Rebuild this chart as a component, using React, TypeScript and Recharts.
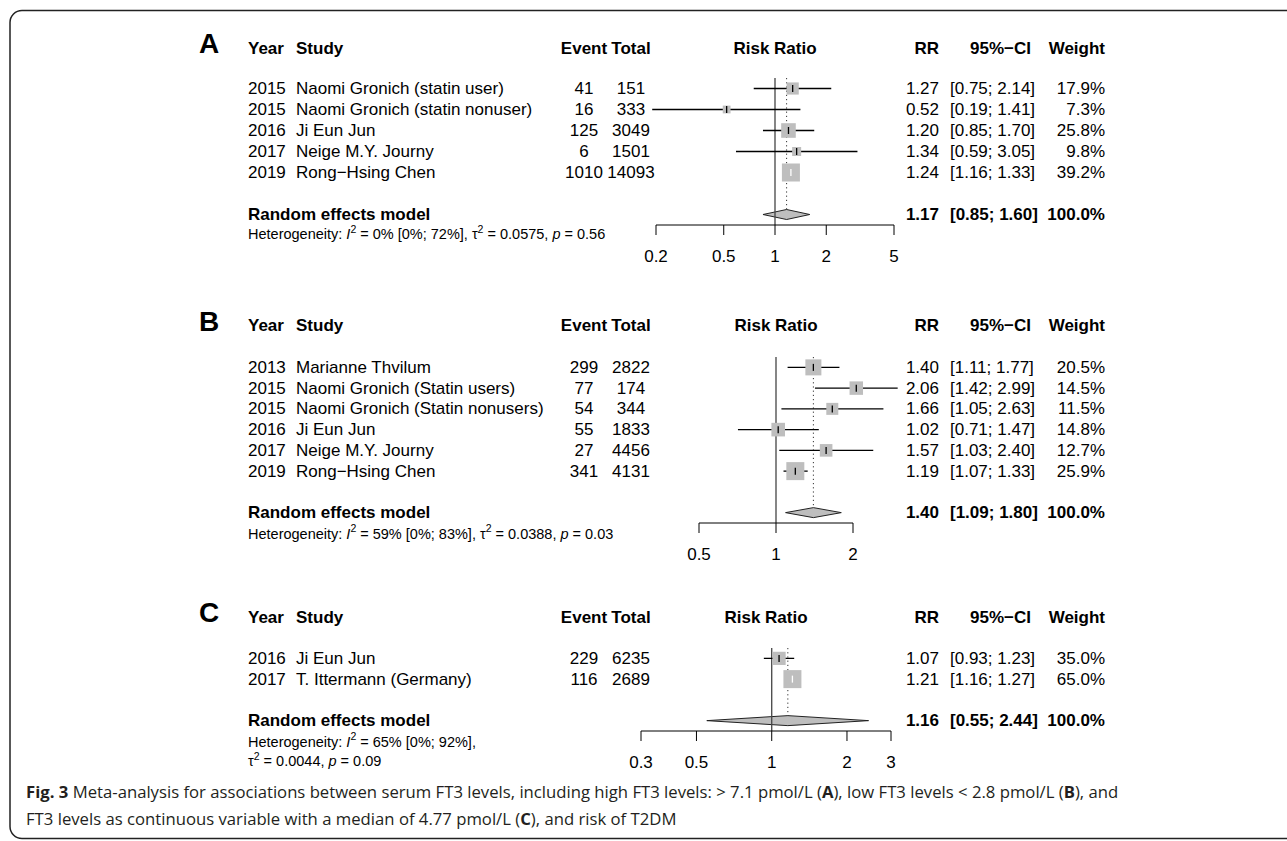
import React from 'react';
import { ComposedChart, XAxis, YAxis, Scatter, ErrorBar, ReferenceLine, Area } from 'recharts';

const FONT = '"Liberation Sans", Arial, Helvetica, sans-serif';
const CAP_FONT = '"Open Sans", "Noto Sans", sans-serif';
const FS = 17;
const HET_FS = 14.5;
const SQ = 18;
const GRAY = '#BEBEBE';

// ---------- Panel A ----------
const yearsA = ['2015', '2015', '2016', '2017', '2019'];
const studiesA = ['Naomi Gronich (statin user)', 'Naomi Gronich (statin nonuser)', 'Ji Eun Jun', 'Neige M.Y. Journy', 'Rong\u2212Hsing Chen'];
const eventsA = [41, 16, 125, 6, 1010];
const totalsA = [151, 333, 3049, 1501, 14093];
const rrA = [1.27, 0.52, 1.2, 1.34, 1.24];
const lowerA = [0.75, 0.19, 0.85, 0.59, 1.16];
const upperA = [2.14, 1.41, 1.7, 3.05, 1.33];
const weightsA = [17.9, 7.3, 25.8, 9.8, 39.2];
const modelA = [1.17, 0.85, 1.6, 100.0];
const hetA = ['0%', '[0%; 72%]', '0.0575', '0.56'];
const ticksA = [0.2, 0.5, 1, 2, 5];

// ---------- Panel B ----------
const yearsB = ['2013', '2015', '2015', '2016', '2017', '2019'];
const studiesB = ['Marianne Thvilum', 'Naomi Gronich (Statin users)', 'Naomi Gronich (Statin nonusers)', 'Ji Eun Jun', 'Neige M.Y. Journy', 'Rong\u2212Hsing Chen'];
const eventsB = [299, 77, 54, 55, 27, 341];
const totalsB = [2822, 174, 344, 1833, 4456, 4131];
const rrB = [1.4, 2.06, 1.66, 1.02, 1.57, 1.19];
const lowerB = [1.11, 1.42, 1.05, 0.71, 1.03, 1.07];
const upperB = [1.77, 2.99, 2.63, 1.47, 2.4, 1.33];
const weightsB = [20.5, 14.5, 11.5, 14.8, 12.7, 25.9];
const modelB = [1.4, 1.09, 1.8, 100.0];
const hetB = ['59%', '[0%; 83%]', '0.0388', '0.03'];
const ticksB = [0.5, 1, 2];

// ---------- Panel C ----------
const yearsC = ['2016', '2017'];
const studiesC = ['Ji Eun Jun', 'T. Ittermann (Germany)'];
const eventsC = [229, 116];
const totalsC = [6235, 2689];
const rrC = [1.07, 1.21];
const lowerC = [0.93, 1.16];
const upperC = [1.23, 1.27];
const weightsC = [35.0, 65.0];
const modelC = [1.16, 0.55, 2.44, 100.0];
const hetC = ['65%', '[0%; 92%]', '0.0044', '0.09'];
const ticksC = [0.3, 0.5, 1, 2, 3];

// ---------- layout (positions only) ----------
const COLS = { letter: 199, year: 248, study: 296, event: 584, total: 631, rr: 939, ci: 950, ciHead: 1031, weight: 1105 };

type Layout = { headerY: number; row1Y: number; rowH: number; axisPx: [number, number]; hetY: number[]; hetSplit: boolean };
const layoutA: Layout = { headerY: 48, row1Y: 88.5, rowH: 21, axisPx: [656, 894], hetY: [234], hetSplit: false };
const layoutB: Layout = { headerY: 325.7, row1Y: 367.3, rowH: 20.75, axisPx: [699, 853], hetY: [533.5], hetSplit: false };
const layoutC: Layout = { headerY: 617, row1Y: 658.5, rowH: 20.75, axisPx: [641, 891], hetY: [741.5, 761], hetSplit: true };

type Panel = {
  letter: string; years: string[]; studies: string[]; events: number[]; totals: number[];
  rr: number[]; lower: number[]; upper: number[]; weights: number[]; model: number[]; het: string[]; ticks: number[]; layout: Layout;
};

const panels: Panel[] = [
  { letter: 'A', years: yearsA, studies: studiesA, events: eventsA, totals: totalsA, rr: rrA, lower: lowerA, upper: upperA, weights: weightsA, model: modelA, het: hetA, ticks: ticksA, layout: layoutA },
  { letter: 'B', years: yearsB, studies: studiesB, events: eventsB, totals: totalsB, rr: rrB, lower: lowerB, upper: upperB, weights: weightsB, model: modelB, het: hetB, ticks: ticksB, layout: layoutB },
  { letter: 'C', years: yearsC, studies: studiesC, events: eventsC, totals: totalsC, rr: rrC, lower: lowerC, upper: upperC, weights: weightsC, model: modelC, het: hetC, ticks: ticksC, layout: layoutC },
];

const f2 = (v: number) => v.toFixed(2);
const ciText = (lo: number, hi: number) => `[${f2(lo)}; ${f2(hi)}]`;
const wText = (w: number) => `${w.toFixed(1)}%`;

const W = 1287;
const PAD = 60;
const YW = 10;
const MT = 6;
const XH = 50;

function PanelChart({ p }: { p: Panel }) {
  const L = p.layout;
  const n = p.rr.length;
  const nRows = n + 2;
  const modelRow = n + 2;
  const xlim0 = p.ticks[0];
  const xlim1 = p.ticks[p.ticks.length - 1];
  const [px0, px1] = L.axisPx;
  const k = (px1 - px0) / Math.log(xlim1 / xlim0);
  const d0 = xlim0 * Math.exp(-PAD / k);
  const d1 = xlim1 * Math.exp(PAD / k);
  const left = px0 - PAD;
  const right = px1 + PAD;
  const plotTop = L.row1Y - L.rowH / 2;
  const plotH = nRows * L.rowH;
  const H = MT + plotH + XH;
  const maxW = Math.max(...p.weights);
  const side = (w: number) => SQ * Math.sqrt(w / maxW);
  const halfDiamond = 5 / L.rowH;

  const rows = p.rr.map((rr, i) => {
    const s = side(p.weights[i]);
    const inside = Math.log(rr / p.lower[i]) * k < s / 2 && Math.log(p.upper[i] / rr) * k < s / 2;
    return { x: rr, y: i + 1, w: p.weights[i], err: [rr - p.lower[i], p.upper[i] - rr], inside };
  });
  const outsideRows = rows.filter((r) => !r.inside);
  const insideRows = rows.filter((r) => r.inside);
  const [mRR, mLo, mHi] = p.model;
  const diamond = [
    { x: mLo, band: [modelRow, modelRow] },
    { x: mRR, band: [modelRow - halfDiamond, modelRow + halfDiamond] },
    { x: mHi, band: [modelRow, modelRow] },
  ];
  const rowTicks = [...p.rr.map((_, i) => i + 1), modelRow];

  const RowTick = (props: any) => {
    const { y, payload } = props;
    const v = payload.value as number;
    if (v <= n) {
      const i = v - 1;
      return (
        <g fontFamily={FONT} fontSize={FS} fill="#000">
          <text x={COLS.year} y={y} dominantBaseline="central">{p.years[i]}</text>
          <text x={COLS.study} y={y} dominantBaseline="central">{p.studies[i]}</text>
          <text x={COLS.event} y={y} dominantBaseline="central" textAnchor="middle">{p.events[i]}</text>
          <text x={COLS.total} y={y} dominantBaseline="central" textAnchor="middle">{p.totals[i]}</text>
          <text x={COLS.rr} y={y} dominantBaseline="central" textAnchor="end">{f2(p.rr[i])}</text>
          <text x={COLS.ci} y={y} dominantBaseline="central">{ciText(p.lower[i], p.upper[i])}</text>
          <text x={COLS.weight} y={y} dominantBaseline="central" textAnchor="end">{wText(p.weights[i])}</text>
        </g>
      );
    }
    return (
      <g fontFamily={FONT} fontSize={FS} fill="#000" fontWeight="bold">
        <text x={COLS.year} y={y} dominantBaseline="central">Random effects model</text>
        <text x={COLS.rr} y={y} dominantBaseline="central" textAnchor="end">{f2(mRR)}</text>
        <text x={COLS.ci} y={y} dominantBaseline="central">{ciText(mLo, mHi)}</text>
        <text x={COLS.weight} y={y} dominantBaseline="central" textAnchor="end">{wText(p.model[3])}</text>
      </g>
    );
  };

  const squareShape = (props: any) => {
    const { cx, cy, payload } = props;
    const s = side(payload.w);
    return <rect x={cx - s / 2} y={cy - s / 2} width={s} height={s} fill={GRAY} />;
  };
  const tickShape = (color: string) => (props: any) => {
    const { cx, cy } = props;
    return <line x1={cx} x2={cx} y1={cy - 3.5} y2={cy + 3.5} stroke={color} strokeWidth={1.3} />;
  };

  return (
    <div style={{ position: 'absolute', left: 0, top: plotTop - MT }}>
      <ComposedChart
        width={W}
        height={H}
        margin={{ top: MT, bottom: 0, left: left - YW, right: W - right }}
        style={{ fontFamily: FONT }}
      >
        <XAxis
          type="number"
          dataKey="x"
          scale="log"
          domain={[d0, d1]}
          allowDataOverflow
          ticks={p.ticks}
          interval={0}
          tickFormatter={(v: number) => String(v)}
          tickSize={10}
          tickMargin={15}
          axisLine={false}
          tickLine={{ stroke: '#000', strokeWidth: 1 }}
          tick={{ fill: '#000', fontSize: FS, fontFamily: FONT }}
          height={XH}
        />
        <YAxis
          type="number"
          dataKey="y"
          domain={[0.5, nRows + 0.5]}
          reversed
          allowDataOverflow
          ticks={rowTicks}
          interval={0}
          width={YW}
          axisLine={false}
          tickLine={false}
          tick={RowTick}
        />
        <ReferenceLine x={1} stroke="#444" strokeWidth={1.3} ifOverflow="visible" />
        <ReferenceLine
          segment={[{ x: mRR, y: 0.5 }, { x: mRR, y: modelRow - halfDiamond }]}
          stroke="#333"
          strokeWidth={1}
          strokeDasharray="1.2 3"
          ifOverflow="visible"
        />
        <ReferenceLine
          segment={[{ x: xlim0, y: nRows + 0.5 }, { x: xlim1, y: nRows + 0.5 }]}
          stroke="#000"
          strokeWidth={1}
          ifOverflow="visible"
        />
        <Area
          data={diamond}
          dataKey="band"
          type="linear"
          stroke="#222"
          strokeWidth={1}
          fill={GRAY}
          fillOpacity={1}
          isAnimationActive={false}
          dot={false}
          activeDot={false}
        />
        <Scatter data={rows} shape={squareShape} isAnimationActive={false} />
        <Scatter data={outsideRows} shape={tickShape('#000')} isAnimationActive={false}>
          <ErrorBar dataKey="err" direction="x" width={0} stroke="#000" strokeWidth={1.3} isAnimationActive={false} />
        </Scatter>
        <Scatter data={insideRows} shape={tickShape('#fff')} isAnimationActive={false}>
          <ErrorBar dataKey="err" direction="x" width={0} stroke="#fff" strokeWidth={1.3} isAnimationActive={false} />
        </Scatter>
      </ComposedChart>
    </div>
  );
}

function Sup({ children }: { children: React.ReactNode }) {
  return <tspan dy={-5.5} fontSize={10.5}>{children}</tspan>;
}

function PanelText({ p }: { p: Panel }) {
  const L = p.layout;
  const hy = L.headerY;
  const axisCenter = (L.axisPx[0] + L.axisPx[1]) / 2;
  const [i2, i2ci, tau2, pv] = p.het;
  return (
    <g fontFamily={FONT} fill="#000">
      <text x={COLS.letter} y={hy + 5} fontSize={28} fontWeight="bold">{p.letter}</text>
      <g fontSize={FS} fontWeight="bold">
        <text x={COLS.year} y={hy} dominantBaseline="central">Year</text>
        <text x={COLS.study} y={hy} dominantBaseline="central">Study</text>
        <text x={COLS.event} y={hy} dominantBaseline="central" textAnchor="middle">Event</text>
        <text x={COLS.total} y={hy} dominantBaseline="central" textAnchor="middle">Total</text>
        <text x={axisCenter} y={hy} dominantBaseline="central" textAnchor="middle">Risk Ratio</text>
        <text x={COLS.rr} y={hy} dominantBaseline="central" textAnchor="end">RR</text>
        <text x={COLS.ciHead} y={hy} dominantBaseline="central" textAnchor="end">95%{'\u2212'}CI</text>
        <text x={COLS.weight} y={hy} dominantBaseline="central" textAnchor="end">Weight</text>
      </g>
      {L.hetSplit ? (
        <g fontSize={HET_FS}>
          <text x={COLS.year} y={L.hetY[0]} dominantBaseline="central">
            Heterogeneity: <tspan fontStyle="italic">I</tspan><Sup>2</Sup><tspan dy={5.5}>{` = ${i2} ${i2ci},`}</tspan>
          </text>
          <text x={COLS.year} y={L.hetY[1]} dominantBaseline="central">
            {'\u03c4'}<Sup>2</Sup><tspan dy={5.5}>{` = ${tau2}, `}</tspan><tspan fontStyle="italic">p</tspan>{` = ${pv}`}
          </text>
        </g>
      ) : (
        <text x={COLS.year} y={L.hetY[0]} fontSize={HET_FS} dominantBaseline="central">
          Heterogeneity: <tspan fontStyle="italic">I</tspan><Sup>2</Sup><tspan dy={5.5}>{` = ${i2} ${i2ci}, \u03c4`}</tspan>
          <Sup>2</Sup><tspan dy={5.5}>{` = ${tau2}, `}</tspan><tspan fontStyle="italic">p</tspan>{` = ${pv}`}
        </text>
      )}
    </g>
  );
}

export default function App() {
  return (
    <div style={{ position: 'absolute', left: 0, top: 0, width: W, height: 841, background: '#fff', overflow: 'hidden' }}>
      {panels.map((p) => (
        <PanelChart key={p.letter} p={p} />
      ))}
      <svg width={W} height={841} style={{ position: 'absolute', left: 0, top: 0, pointerEvents: 'none' }}>
        <rect x={10} y={10.5} width={1320} height={828} rx={12} ry={12} fill="none" stroke="#222" strokeWidth={1.5} />
        {panels.map((p) => (
          <PanelText key={p.letter} p={p} />
        ))}
        <g fontFamily={CAP_FONT} fontSize={16.7} fill="#231f20">
          <text x={26} y={791} dominantBaseline="central">
            <tspan fontWeight="bold">Fig. 3</tspan> Meta-analysis for associations between serum FT3 levels, including high FT3 levels: &gt; 7.1 pmol/L (<tspan fontWeight="bold">A</tspan>), low FT3 levels &lt; 2.8 pmol/L (<tspan fontWeight="bold">B</tspan>), and
          </text>
          <text x={26} y={818} dominantBaseline="central">
            FT3 levels as continuous variable with a median of 4.77 pmol/L (<tspan fontWeight="bold">C</tspan>), and risk of T2DM
          </text>
        </g>
      </svg>
    </div>
  );
}
